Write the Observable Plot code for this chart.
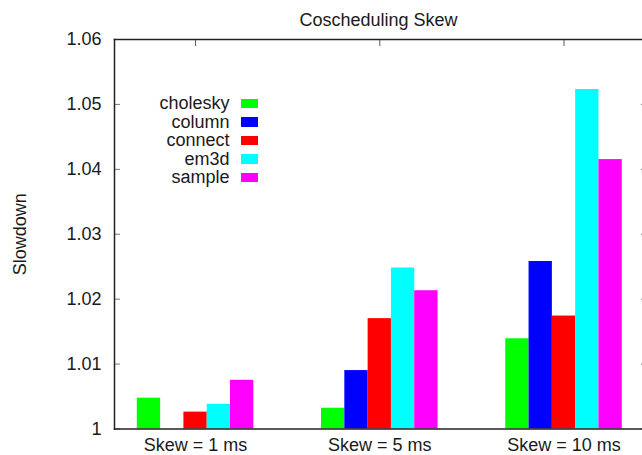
<!DOCTYPE html>
<html>
<head>
<meta charset="utf-8">
<script src="https://cdn.jsdelivr.net/npm/d3@7"></script>
<script src="https://cdn.jsdelivr.net/npm/@observablehq/plot@0.6"></script>
<style>
  html, body { margin: 0; padding: 0; background: #fff; overflow: hidden; }
  #wrap { position: relative; width: 642px; height: 455px; font-family: "Liberation Sans", Arial, Helvetica, sans-serif; color: #1a1a1a; }
  #legend { position: absolute; left: 0; top: 0; }
  .row { position: absolute; display: flex; align-items: center; font-size: 18px; }
  .row span.lab { width: 120px; text-align: right; line-height: 18px; }
  .row span.sw { display: inline-block; width: 17.5px; height: 9.5px; margin-left: 11px; }
</style>
</head>
<body>
<div id="wrap"><div id="chart"></div><div id="legend"></div></div>
<script>
const title = "Coscheduling Skew";
const yLabel = "Slowdown";
const groups = ["Skew = 1 ms", "Skew = 5 ms", "Skew = 10 ms"];
const series = ["cholesky", "column", "connect", "em3d", "sample"];
const colors = ["#00ff00", "#0000ff", "#ff0000", "#00ffff", "#ff00ff"];
const cholesky = [1.00475, 1.0032, 1.0139];
const column = [null, 1.0090, 1.0258];
const connect = [1.0026, 1.0170, 1.0174];
const em3d = [1.0038, 1.0248, 1.0523];
const sample = [1.0075, 1.0213, 1.0415];
const yTicks = [1, 1.01, 1.02, 1.03, 1.04, 1.05, 1.06];
const yTickLabels = ["1", "1.01", "1.02", "1.03", "1.04", "1.05", "1.06"];

const valuesBySeries = [cholesky, column, connect, em3d, sample];
const rows = [];
groups.forEach((g, gi) => series.forEach((s, si) => {
  const v = valuesBySeries[si][gi];
  if (v != null) rows.push({g: gi, s: si, name: s, value: v});
}));

const barWidth = 0.1265;
const groupIdx = groups.map((_, i) => i);

const chart = Plot.plot({
  width: 642,
  height: 455,
  marginLeft: 114,
  marginRight: 0,
  marginTop: 39,
  marginBottom: 26.5,
  style: {fontFamily: '"Liberation Sans", Arial, Helvetica, sans-serif', fontSize: "18px", background: "#fff", color: "#1a1a1a"},
  x: {type: "linear", domain: [-0.44, 2.426], axis: null},
  y: {domain: [1, 1.06], axis: null},
  color: {domain: series, range: colors},
  marks: [
    Plot.rect(rows, {
      x1: d => d.g + (d.s - 2.5) * barWidth,
      x2: d => d.g + (d.s - 1.5) * barWidth,
      y1: 1,
      y2: "value",
      fill: "name"
    }),
    Plot.axisY({anchor: "left", ticks: yTicks, tickSize: -6, stroke: "#777", tickFormat: () => "", label: null}),
    Plot.axisY({anchor: "right", ticks: yTicks, tickSize: -2, stroke: "#777", tickFormat: () => "", label: null}),
    Plot.axisY({anchor: "left", ticks: yTicks, tickSize: 0, tickPadding: 13, fontSize: 18, fill: "#1a1a1a",
      tickFormat: d => yTickLabels[yTicks.findIndex(t => Math.abs(t - d) < 1e-9)], label: null}),
    Plot.axisX({anchor: "top", ticks: groupIdx, tickSize: -6, stroke: "#555", tickFormat: () => "", label: null}),
    Plot.axisX({anchor: "bottom", ticks: groupIdx, tickSize: 0, tickPadding: 9.5, fontSize: 18, fill: "#1a1a1a",
      tickFormat: i => groups[Math.round(i)], label: null}),
    Plot.frame({anchor: "left", stroke: "#222", strokeWidth: 1.5}),
    Plot.frame({anchor: "top", stroke: "#222", strokeWidth: 1.5}),
    Plot.frame({anchor: "bottom", stroke: "#222", strokeWidth: 1.5}),
    Plot.text([title], {frameAnchor: "top", dy: -19, lineAnchor: "middle", textAnchor: "middle", fontSize: 18, fill: "#1a1a1a"}),
    Plot.text([yLabel], {frameAnchor: "left", dx: -94, rotate: -90, lineAnchor: "middle", textAnchor: "middle", fontSize: 18, fill: "#1a1a1a"})
  ]
});
document.getElementById("chart").appendChild(chart);

const legend = document.getElementById("legend");
series.forEach((s, i) => {
  const row = document.createElement("div");
  row.className = "row";
  row.style.left = (229.5 - 120) + "px";
  row.style.top = (103.3 + i * 18.5 - 9) + "px";
  row.innerHTML = `<span class="lab">${s}</span><span class="sw" style="background:${colors[i]}"></span>`;
  legend.appendChild(row);
});
</script>
</body>
</html>
